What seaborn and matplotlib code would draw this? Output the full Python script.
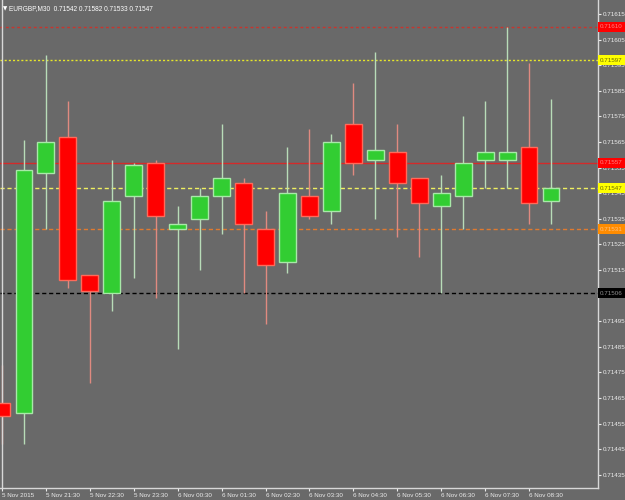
import matplotlib
matplotlib.use("Agg")
import matplotlib.pyplot as plt
import seaborn as sns
import numpy as np
import pandas as pd

# ---- data (EURGBP M30) ----
opens  = [0.71463, 0.71459, 0.71553, 0.71567, 0.71513, 0.71506, 0.71544, 0.71557, 0.71531, 0.71535,
          0.71544, 0.71549, 0.71531, 0.71518, 0.71544, 0.71538, 0.71572, 0.71558, 0.71561, 0.71551,
          0.71540, 0.71544, 0.71558, 0.71558, 0.71563, 0.71542]
highs  = [0.71478, 0.71566, 0.71599, 0.71581, 0.71513, 0.71558, 0.71557, 0.71558, 0.71540, 0.71547,
          0.71572, 0.71551, 0.71538, 0.71563, 0.71570, 0.71568, 0.71588, 0.71600, 0.71572, 0.71551,
          0.71552, 0.71575, 0.71581, 0.71610, 0.71596, 0.71582]
lows   = [0.71447, 0.71447, 0.71531, 0.71508, 0.71471, 0.71499, 0.71512, 0.71504, 0.71484, 0.71515,
          0.71529, 0.71506, 0.71494, 0.71514, 0.71535, 0.71533, 0.71552, 0.71535, 0.71528, 0.71520,
          0.71506, 0.71531, 0.71547, 0.71547, 0.71533, 0.71533]
closes = [0.71458, 0.71554, 0.71565, 0.71511, 0.71507, 0.71542, 0.71556, 0.71536, 0.71533, 0.71544,
          0.71551, 0.71533, 0.71517, 0.71545, 0.71536, 0.71565, 0.71557, 0.71562, 0.71549, 0.71541,
          0.71545, 0.71557, 0.71561, 0.71561, 0.71541, 0.71547]

time_labels = ["5 Nov 2015", "5 Nov 21:30", "5 Nov 22:30", "5 Nov 23:30", "6 Nov 00:30",
               "6 Nov 01:30", "6 Nov 02:30", "6 Nov 03:30", "6 Nov 04:30", "6 Nov 05:30",
               "6 Nov 06:30", "6 Nov 07:30", "6 Nov 08:30"]
price_ticks = [0.71435, 0.71445, 0.71455, 0.71465, 0.71475, 0.71485, 0.71495, 0.71505, 0.71515,
               0.71525, 0.71535, 0.71545, 0.71555, 0.71565, 0.71575, 0.71585, 0.71595, 0.71605,
               0.71615]
level_prices = [0.71610, 0.71597, 0.71557, 0.71547, 0.71531, 0.71506]
level_colors = ["#c8352d", "#e6e62a", "#d42a2a", "#f0f060", "#e07a30", "#000000"]
level_styles = [(0, (2, 2)), (0, (1.5, 1.5)), "-", (0, (3, 2)), (0, (3, 2)), (0, (3, 2))]
level_boxes = ["#ff0000", "#ffff00", "#ff0000", "#ffff00", "#ff8c00", "#000000"]
level_text = ["#ff8080", "#6a6a00", "#ff8080", "#6a6a00", "#ffc080", "#909090"]
title = "EURGBP,M30  0.71542 0.71582 0.71533 0.71547"

df = pd.DataFrame({"open": opens, "high": highs, "low": lows, "close": closes})
df["idx"] = np.arange(len(df))
df["up"] = df["close"] >= df["open"]

sns.set_theme(style="dark")
plt.rcParams["font.family"] = ["Liberation Sans", "DejaVu Sans"]

BG = "#696969"
FS = 4.5
fig = plt.figure(figsize=(6.25, 5), dpi=100, facecolor=BG)
ax = fig.add_axes([0, 12 / 500, 598 / 625, 488 / 500])
ax.set_facecolor(BG)

# horizontal levels
for p, c, ls in zip(level_prices, level_colors, level_styles):
    ax.axhline(p, color=c, lw=1.0, ls=ls, zorder=1)

# wicks
up = df[df["up"]]
dn = df[~df["up"]]
ax.vlines(up["idx"], up["low"], up["high"], color="#b8dcb8", lw=1, zorder=2)
ax.vlines(dn["idx"], dn["low"], dn["high"], color="#e08a80", lw=1, zorder=2)

# bodies
w = 0.77
ax.bar(up["idx"], up["close"] - up["open"], bottom=up["open"], width=w,
       color="#32cd32", edgecolor="#a8e8a8", linewidth=1, zorder=3)
ax.bar(dn["idx"], dn["open"] - dn["close"], bottom=dn["close"], width=w,
       color="#ff0000", edgecolor="#ff6a5a", linewidth=1, zorder=3, clip_on=False)

ax.set_xlim(-2 / 21.96, 598 / 21.96 - 2 / 21.96)
ax.set_ylim(0.7142985, 0.716205)

# spines
ax.spines["top"].set_visible(False)
for s in ["right", "bottom", "left"]:
    ax.spines[s].set_visible(True)
    ax.spines[s].set_color("#d8d8d8")
    ax.spines[s].set_linewidth(1)
ax.spines["left"].set_position(("data", 0))

ax.grid(False)
ax.yaxis.tick_right()
ax.set_yticks(price_ticks)
ax.set_yticklabels([f"{v:.5f}" for v in price_ticks])
ax.tick_params(axis="y", colors="#ececec", labelsize=FS, length=2.5, width=0.8, pad=0.8,
               direction="out", right=True, left=False)
xt = np.arange(0, 2 * len(time_labels), 2)
ax.set_xticks(xt)
ax.set_xticklabels(time_labels, ha="left")
ax.tick_params(axis="x", colors="#ececec", labelsize=FS, length=2.5, width=0.8, pad=0.8,
               direction="out", bottom=True)

# level boxes on price axis
for p, bc, tc in zip(level_prices, level_boxes, level_text):
    ax.annotate(f"{p:.5f}", xy=(1.0, p), xycoords=("axes fraction", "data"),
                xytext=(1.5, 0), textcoords="offset points", ha="left", va="center",
                fontsize=FS, color=tc, annotation_clip=False,
                bbox=dict(boxstyle="square,pad=0.4", fc=bc, ec="none"), zorder=10)

# title
fig.text(3 / 625, 1 - 9 / 500, "\u25BC", fontsize=4, color="white", family="DejaVu Sans",
         va="center", ha="left")
fig.text(9 / 625, 1 - 9 / 500, title, fontsize=4.7, color="white", va="center", ha="left")

fig.savefig("out.png", dpi=100, facecolor=BG)
